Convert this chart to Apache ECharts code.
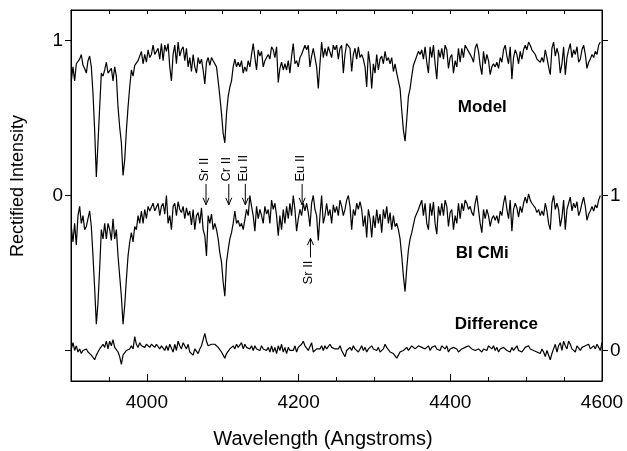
<!DOCTYPE html>
<html>
<head>
<meta charset="utf-8">
<script src="https://cdn.jsdelivr.net/npm/echarts@6/dist/echarts.min.js"></script>
<style>
  html, body { margin: 0; padding: 0; background: #fff; }
  #chart { width: 627px; height: 451px; }
</style>
</head>
<body>
<div id="chart"></div>
<script>
// wavelength grid of the spectra (Angstroms)
const WAVE_START = 3900.4
const WAVE_STEP = 2.2

// model spectrum, rectified intensity (left axis)
const modelBlue = [
  0.74,0.83,0.74,0.85,0.86,0.88,0.91,0.84,0.82,0.79,
  0.87,0.90,0.83,0.66,0.42,0.12,0.34,0.57,0.79,0.77,
  0.81,0.86,0.79,0.79,0.82,0.74,0.83,0.77,0.57,0.44,
  0.34,0.13,0.23,0.42,0.57,0.70,0.81,0.77,0.84,0.85,
  0.87,0.86,0.93,0.85,0.91,0.86,0.94,0.89,0.91,0.97,
  0.91,0.93,0.95,0.88,0.98,0.87,0.97,0.93,0.98,0.83,
  0.74,0.91,0.97,0.85,0.99,0.90,0.94,0.96,0.87,0.95,
  0.83,0.89,0.80,0.91,0.83,0.79,0.89,0.85,0.88,0.81,
  0.72,0.86,0.89,0.84,0.89,0.87,0.86,0.83,0.74,0.64,
  0.53,0.40,0.34,0.53,0.64,0.70,0.74,0.83,0.88,0.83,
  0.86,0.83,0.87,0.79
]
const modelMid = [
  0.83,0.80,0.87,0.83,0.91,0.98,0.89,0.81,0.94,0.90,
  0.93,0.83,0.87,0.88,0.91,0.88,0.96,0.94,0.89,0.96,
  0.73,0.82,0.86,0.81,0.85,0.81,0.87,0.79,0.90,0.98,
  0.85,0.87,0.83,0.89,0.91,0.94,0.97,0.94,0.97,0.83,
  0.90,0.95,0.89,0.83,0.69,0.85,0.99,0.89,0.95,0.90,
  0.96,0.95,0.89,0.97,0.94,0.97,0.88,0.95,0.97,0.79,
  0.91,0.98,0.98,0.95,0.80,0.91,0.95,0.88,0.96,0.89,
  0.91,0.88,0.83,0.70,0.93,0.85,0.69,0.85,0.79,0.91,
  0.81,0.88,0.90,0.85,0.93,0.87,0.89,0.85,0.89,0.80,
  0.85,0.79,0.79,0.69,0.55,0.42,0.35,0.49,0.64,0.69,
  0.77,0.84,0.87,0.90,0.93,0.91
]
const modelRed = [
  0.94,0.88,0.96,0.86,0.79,0.96,0.89,0.97,0.85,0.75,
  0.94,0.89,0.95,0.88,0.97,0.94,0.82,0.89,0.91,0.79,
  0.87,0.83,0.95,0.86,0.95,0.89,0.97,0.95,0.93,0.93,
  0.89,0.86,0.95,0.98,0.93,0.84,0.78,0.93,0.85,0.91,
  0.87,0.78,0.83,0.85,0.83,0.86,0.82,0.89,0.86,0.94,
  0.97,0.90,0.85,0.96,0.75,0.89,0.94,0.91,0.85,0.93,
  0.88,0.94,0.97,0.94,0.99,0.97,0.94,0.95,0.91,0.88,
  0.89,0.86,0.89,0.86,0.94,0.89,0.83,0.78,0.95,0.99,
  0.90,0.95,0.91,0.79,0.85,0.96,0.78,0.89,0.94,0.98,
  0.89,0.94,0.91,0.96,0.86,0.88,0.94,0.97,0.91,0.82,
  0.86,0.88,0.91,0.89,0.93,0.91,0.97,0.99
]

// BI CMi observed spectrum (right axis)
const starBlue = [
  0.80,0.70,0.82,0.68,0.87,0.93,0.82,0.87,0.78,0.80,
  0.85,0.90,0.80,0.61,0.40,0.17,0.31,0.53,0.78,0.72,
  0.82,0.72,0.82,0.78,0.71,0.85,0.72,0.78,0.61,0.48,
  0.35,0.17,0.29,0.46,0.61,0.70,0.76,0.70,0.80,0.78,
  0.87,0.82,0.90,0.82,0.91,0.85,0.93,0.90,0.91,0.95,
  0.90,0.91,0.95,0.87,0.93,0.95,0.88,1.00,0.82,0.87,
  0.78,0.93,0.95,0.87,0.96,0.91,0.89,0.93,0.85,0.92,
  0.87,0.90,0.81,0.91,0.78,0.87,0.89,0.82,0.92,0.78,
  0.74,0.61,0.87,0.82,0.88,0.78,0.82,0.78,0.72,0.63,
  0.57,0.44,0.35,0.57,0.65,0.72,0.76,0.82,0.90,0.82,
  0.84,0.80,0.82,0.78
]
const starMid = [
  0.78,0.91,0.87,1.00,0.93,0.87,0.77,0.93,0.85,0.91,
  0.87,0.82,0.93,0.88,0.91,0.82,0.97,0.91,0.95,0.87,
  0.74,0.87,0.78,0.91,0.82,0.93,0.85,0.95,0.87,1.00,
  0.91,0.77,0.85,0.91,0.87,0.95,0.90,0.95,0.89,0.80,
  0.95,1.00,0.91,0.87,0.71,0.87,1.00,0.82,0.87,0.95,
  0.87,0.91,0.82,0.94,0.89,0.93,0.87,0.97,0.93,0.87,
  0.91,0.97,1.00,0.93,0.78,0.91,0.87,0.95,0.91,0.96,
  0.91,0.80,0.87,0.73,0.91,0.85,0.73,0.87,0.79,0.91,
  0.82,0.88,0.76,0.91,0.85,0.93,0.82,0.89,0.78,0.87,
  0.80,0.82,0.78,0.72,0.61,0.48,0.38,0.53,0.65,0.72,
  0.76,0.81,0.86,0.87,0.91,0.94
]
const starRed = [
  0.97,0.87,0.95,0.82,0.78,0.95,0.87,0.96,0.82,0.75,
  0.93,0.87,0.95,0.87,0.97,0.93,0.80,0.89,0.91,0.78,
  0.87,0.82,0.95,0.85,0.95,0.90,0.97,0.95,0.91,0.93,
  0.89,0.87,0.95,1.00,0.91,0.82,0.76,0.91,0.85,0.91,
  0.87,0.80,0.85,0.87,0.84,0.87,0.82,0.90,0.87,0.95,
  1.00,0.91,0.85,0.97,0.77,0.91,0.95,0.92,0.86,0.93,
  0.89,0.95,0.99,0.95,1.01,0.97,0.95,0.96,0.92,0.89,
  0.91,0.87,0.90,0.87,0.95,0.90,0.82,0.78,0.95,1.00,
  0.91,0.95,0.91,0.80,0.86,0.97,0.78,0.91,0.95,0.99,
  0.90,0.95,0.92,0.96,0.87,0.90,0.95,0.99,0.93,0.84,
  0.88,0.90,0.93,0.90,0.94,0.92,0.97,1.00
]

// difference spectrum (right axis, around 0)
const diffBlue = [
  0.01,0.05,0.00,0.03,-0.01,0.01,-0.02,0.00,-0.01,0.01,
  -0.01,-0.02,-0.03,-0.04,-0.06,-0.03,-0.01,0.01,0.00,0.04,
  0.02,0.06,0.01,0.06,0.03,0.07,0.02,0.03,-0.01,-0.04,
  -0.09,-0.03,-0.02,0.00,-0.01,0.01,0.03,0.01,0.09,0.04,
  0.02,0.05,0.03,0.04,0.02,0.04,0.03,0.02,0.04,0.03,
  0.02,0.04,0.03,0.01,0.03,0.02,0.00,0.03,0.00,0.04,
  0.03,-0.01,0.04,0.00,0.06,0.03,0.01,0.05,0.06,0.01,
  0.04,-0.01,0.00,-0.03,0.01,0.02,-0.02,0.01,0.03,0.04,
  0.11,0.06,0.03,0.02,0.04,0.03,0.04,0.03,0.02,0.01,
  -0.01,-0.03,-0.05,-0.02,-0.01,0.01,0.00,0.03,0.01,0.04,
  0.02,0.03,0.05,0.01,0.04,0.02,0.03,0.01,0.03,0.00,
  0.03,0.01,0.02,0.00,0.03,0.01,0.02,0.00,0.02,-0.01,
  0.03,-0.01,0.02,-0.02,0.03,0.00,0.04,-0.01,0.02,-0.02,
  0.02,0.00,0.01,0.00,0.03,-0.01,0.02,0.01,0.04,0.06,
  0.03,0.04,0.00,0.01,0.05,-0.01,-0.02,0.01,0.02,0.01,
  0.03,0.00,0.03,0.01,0.02,0.04,0.02,0.03,0.01,0.02,
  0.01
]
const diffRed = [
  0.03,0.00,-0.01,-0.04,0.00,0.01,0.02,0.00,0.03,0.01,
  0.02,-0.01,0.01,0.03,0.00,0.02,-0.01,0.01,0.00,0.03,
  0.01,0.02,0.00,0.02,-0.01,-0.02,0.01,0.04,0.02,0.03,
  -0.01,0.00,-0.02,-0.01,-0.05,-0.03,-0.01,-0.02,0.00,-0.01,
  0.02,0.00,0.01,0.03,0.02,0.01,0.02,0.03,0.04,0.02,
  0.03,0.01,0.02,0.03,0.00,0.02,0.01,0.03,0.01,0.02,
  0.00,0.03,0.04,0.01,0.03,-0.01,0.01,0.00,0.02,0.03,
  0.01,-0.01,-0.02,0.01,0.00,0.02,0.01,0.03,0.02,0.01,
  0.02,0.00,-0.01,0.01,0.00,-0.01,0.01,0.02,0.00,0.03,
  0.02,0.01,0.03,0.00,0.02,-0.01,0.01,0.00,0.02,0.01,
  0.00,0.01,-0.01,0.02,0.00,0.01,0.03,0.00,0.01,-0.01,
  -0.02,0.02,0.01,0.03,0.01,0.02,0.00,0.01,-0.01,0.00,
  -0.02,0.01,-0.01,-0.04,0.00,-0.01,-0.06,-0.02,0.01,0.04,
  -0.01,0.03,0.05,0.00,0.06,0.03,0.01,0.06,0.04,0.01,
  0.02,-0.01,0.03,0.04,0.00,0.02,0.01,0.03,0.02,0.04,
  0.01,0.02,0.03,0.01,0.04,0.02,0.00,0.05
]

// tick positions and labels
const X_TICK_STEP = 50
const X_LABEL_STEP = 200
const xMajorTicks = [4000, 4200, 4400, 4600]
const leftTicks = [-1, 0, 1]
const leftLabels = [0, 1]
const rightTicks = [0, 1, 2]
const rightLabels = [0, 1]

// line identifications (Angstroms)
const idsAbove = [['Sr II', 4078], ['Cr II', 4108], ['Eu II', 4129.8], ['Eu II', 4204.7]]
const idsBelow = [['Sr II', 4215.7]]

const FONT = "'Liberation Sans', Arial, Helvetica, sans-serif"

function toPairs(values) {
  return values.map((v, i) => [+(WAVE_START + i * WAVE_STEP).toFixed(2), v])
}

const chart = echarts.init(document.getElementById('chart'))

const black = '#000'
const plain = v => String(v)

const lineSeries = (name, data, yIndex) => ({
  name,
  type: 'line',
  data: toPairs(data),
  xAxisIndex: 0,
  yAxisIndex: yIndex,
  showSymbol: false,
  symbol: 'none',
  sampling: null,
  lineStyle: { color: black, width: 1.2 },
  silent: true,
  animation: false
})

const frame = () => ({ show: true, onZero: false, lineStyle: { color: black, width: 1 } })

const option = {
  animation: false,
  // border drawn by the grid so the box is closed on all four sides
  grid: {
    left: 71, right: 25, top: 10, bottom: 70,
    show: true, borderColor: black, borderWidth: 1, backgroundColor: 'transparent'
  },
  xAxis: [
    {
      type: 'value', position: 'bottom', min: 3900, max: 4600, interval: X_TICK_STEP,
      axisLine: frame(),
      axisTick: { show: true, inside: true, length: 4, lineStyle: { color: black, width: 1 } },
      axisLabel: {
        formatter: v => (v % X_LABEL_STEP === 0 ? String(v) : ''),
        color: black, fontSize: 19, fontFamily: FONT, margin: 12,
        showMinLabel: true, showMaxLabel: true, hideOverlap: false
      },
      splitLine: { show: false }
    },
    {
      type: 'value', position: 'top', min: 3900, max: 4600, interval: X_TICK_STEP,
      axisLine: frame(),
      axisTick: { show: true, inside: true, length: 4, lineStyle: { color: black, width: 1 } },
      axisLabel: { show: false },
      splitLine: { show: false }
    },
    {
      type: 'value', position: 'bottom', min: 3900, max: 4600,
      axisLine: { show: false, onZero: false },
      axisTick: { show: true, inside: true, length: 7, customValues: xMajorTicks, lineStyle: { color: black, width: 1 } },
      axisLabel: { show: false },
      splitLine: { show: false }
    }
  ],
  yAxis: [
    {
      type: 'value', position: 'left', min: -1.197, max: 1.197,
      axisLine: frame(),
      axisTick: { show: true, inside: false, length: 6, customValues: leftTicks, lineStyle: { color: black } },
      axisLabel: { customValues: leftLabels, formatter: plain, color: black, fontSize: 19, fontFamily: FONT, margin: 8 },
      splitLine: { show: false }
    },
    {
      type: 'value', position: 'right', min: -0.197, max: 2.197,
      axisLine: frame(),
      axisTick: { show: true, inside: false, length: 6, customValues: rightTicks, lineStyle: { color: black } },
      axisLabel: { customValues: rightLabels, formatter: plain, color: black, fontSize: 19, fontFamily: FONT, margin: 8 },
      splitLine: { show: false }
    }
  ],
  series: [
    lineSeries('Model', modelBlue.concat(modelMid, modelRed), 0),
    lineSeries('BI CMi', starBlue.concat(starMid, starRed), 1),
    lineSeries('Difference', diffBlue.concat(diffRed), 1)
  ]
}

chart.setOption(option)

// annotations, placed in data coordinates of the left axis
function px(wave, level) {
  return chart.convertToPixel({ xAxisIndex: 0, yAxisIndex: 0 }, [wave, level])
}

const graphics = []

const names = [['Model', 4409.8, 0.57], ['BI CMi', 4407.2, -0.37], ['Difference', 4405.9, -0.83]]
names.forEach(([text, w, lv]) => {
  const [x, y] = px(w, lv)
  graphics.push({
    type: 'text', x, y, silent: true,
    style: { text, fill: black, font: `bold 17px ${FONT}`, align: 'left', verticalAlign: 'middle' }
  })
})

function arrow(x, yTail, yTip) {
  const dir = yTip > yTail ? 1 : -1
  graphics.push({
    type: 'line', silent: true,
    shape: { x1: x, y1: yTail, x2: x, y2: yTip },
    style: { stroke: black, lineWidth: 1 }
  })
  graphics.push({
    type: 'polyline', silent: true,
    shape: { points: [[x - 3, yTip - dir * 7], [x, yTip], [x + 3, yTip - dir * 7]] },
    style: { stroke: black, lineWidth: 1, fill: null }
  })
}

idsAbove.forEach(([text, w]) => {
  const [x, yTip] = px(w, -0.06)
  const yTail = px(w, 0.075)[1]
  const yText = px(w, 0.09)[1]
  arrow(x, yTail, yTip)
  graphics.push({
    type: 'text', x: x - 2, y: yText, rotation: Math.PI / 2, silent: true,
    style: { text, fill: black, font: `13px ${FONT}`, align: 'left', verticalAlign: 'middle' }
  })
})

idsBelow.forEach(([text, w]) => {
  const [x, yTip] = px(w, -0.275)
  const yTail = px(w, -0.40)[1]
  const yText = px(w, -0.42)[1]
  arrow(x, yTail, yTip)
  graphics.push({
    type: 'text', x: x - 2, y: yText, rotation: Math.PI / 2, silent: true,
    style: { text, fill: black, font: `13px ${FONT}`, align: 'right', verticalAlign: 'middle' }
  })
})

// axis titles
graphics.push({
  type: 'text', x: 323, y: 439, silent: true,
  style: { text: 'Wavelength (Angstroms)', fill: black, font: `20px ${FONT}`, align: 'center', verticalAlign: 'middle' }
})
graphics.push({
  type: 'text', x: 18, y: 186, rotation: Math.PI / 2, silent: true,
  style: { text: 'Rectified Intensity', fill: black, font: `18px ${FONT}`, align: 'center', verticalAlign: 'middle' }
})

chart.setOption({ graphic: graphics })

window.addEventListener('resize', () => {
  chart.resize()
})
</script>
</body>
</html>
